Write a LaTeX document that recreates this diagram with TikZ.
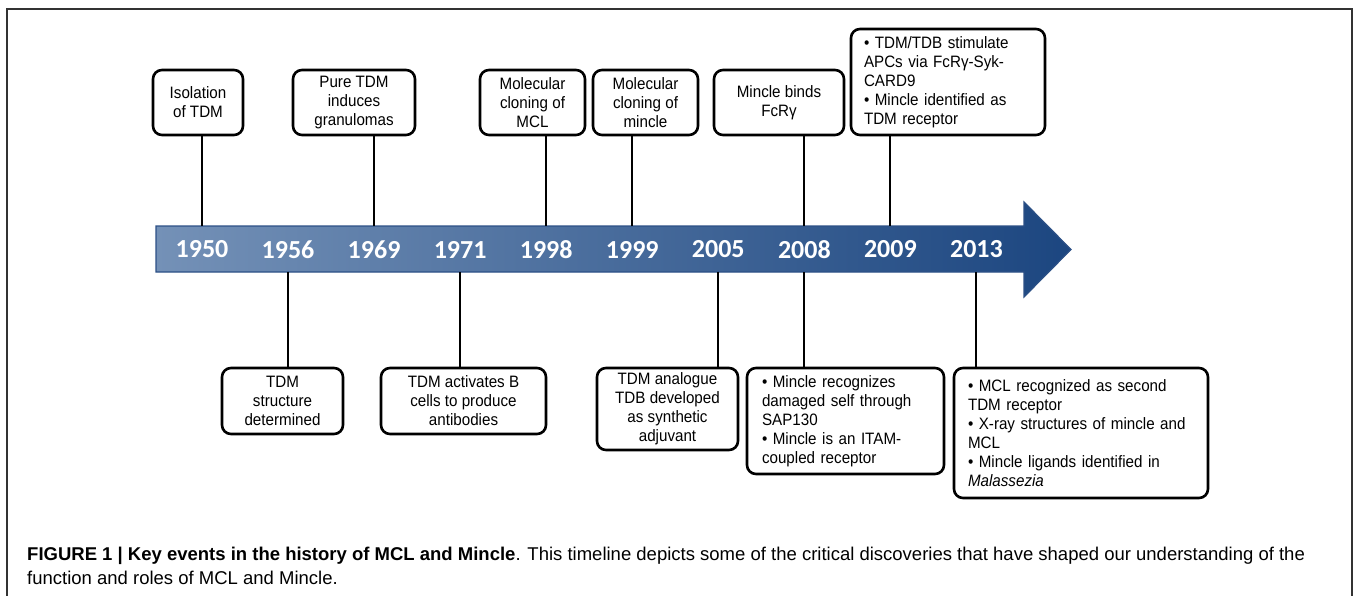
\documentclass[tikz,border=0pt]{standalone}
\usepackage{fontspec}
\setmainfont{Liberation Sans}
\newfontfamily\yearfont{Carlito}
\newfontfamily\boxfont[FakeStretch=0.92]{Liberation Sans}
\usetikzlibrary{calc}
\definecolor{bandlight}{RGB}{116,145,183}
\definecolor{banddark}{RGB}{28,70,128}
\definecolor{bandedge}{RGB}{44,80,134}
\tikzset{
	event/.style={draw, line width=2.6pt, rounded corners=9pt, align=center, inner sep=0pt,
		font=\boxfont\fontsize{16.5}{19}\selectfont},
	eventl/.style={event, align=left},
	stem/.style={line width=2pt},
	year/.style={text=white, inner sep=0pt, font=\yearfont\bfseries\fontsize{26}{26}\selectfont},
}

\begin{document}
\begin{tikzpicture}[x=1pt, y=-1pt]
		%%%%% START %%%%%
		\useasboundingbox (0,0) rectangle (1354,596);
		\draw[line width=1.3pt, black!80] (7,596) |- (1352,9) -- (1352,596);
		
		% timeline arrow
		\shade[left color=bandlight, right color=banddark] (156,226) -- (1024,226) -- (1024,202) -- (1071,249.5) -- (1024,297) -- (1024,272) -- (156,272) -- cycle;
		\draw[bandedge, line width=1.2pt] (156,226) -- (1024,226) -- (1024,202) -- (1071,249.5) -- (1024,297) -- (1024,272) -- (156,272) -- cycle;
		\coordinate (bandtop) at (0,226);
		\coordinate (bandbot) at (0,272);
		
		\foreach \yr [count=\i from 0] in {1950,1956,1969,1971,1998,1999,2005,2008,2009,2013}
			\node[year] (y\yr) at ({202+86.05*\i}, 249.5) {\yr};
		
		% events above
		\node[event, minimum width=90, minimum height=65] (e1950) at (198,102.5) {Isolation\\of TDM};
		\node[event, minimum width=122, minimum height=65] (e1969) at (354,102.5) {Pure TDM\\induces\\granulomas};
		\node[event, minimum width=105, minimum height=65] (e1998) at (532.5,102.5) {Molecular\\cloning of\\MCL};
		\node[event, minimum width=105, minimum height=65] (e1999) at (645.5,102.5) {Molecular\\cloning of\\mincle};
		\node[event, minimum width=130, minimum height=65] (e2008a) at (779,102.5) {Mincle binds\\FcRγ};
		\node[eventl, minimum width=194, minimum height=106, text width=168] (e2009) at (948,82) {• TDM/TDB stimulate\\APCs via FcRγ-Syk-\\CARD9\\• Mincle identified as\\TDM receptor};
		
		% events below
		\node[event, minimum width=121, minimum height=66] (e1956) at (282.5,401) {TDM\\structure\\determined};
		\node[event, minimum width=165, minimum height=66] (e1971) at (463.5,401) {TDM activates B\\cells to produce\\antibodies};
		\node[event, minimum width=141, minimum height=82] (e2005) at (667.5,409) {TDM analogue\\TDB developed\\as synthetic\\adjuvant};
		\node[eventl, minimum width=197, minimum height=106, text width=167] (e2008b) at (845.5,421) {• Mincle recognizes\\damaged self through\\SAP130\\• Mincle is an ITAM-\\coupled receptor};
		\node[eventl, minimum width=254, minimum height=130, text width=226] (e2013) at (1081,433) {• MCL recognized as second\\TDM receptor\\• X-ray structures of mincle and\\MCL\\• Mincle ligands identified in\\\textit{Malassezia}};
		
		% stems
		\foreach \e/\yr in {e1950/1950,e1969/1969,e1998/1998,e1999/1999,e2008a/2008,e2009/2009}
			\draw[stem] (\e.south -| y\yr) -- (y\yr |- bandtop);
		\foreach \e/\yr in {e1956/1956,e1971/1971,e2005/2005,e2008b/2008,e2013/2013}
			\draw[stem] (\e.north -| y\yr) -- (y\yr |- bandbot);
		
		% caption
		\node[anchor=west, align=left, inner sep=0pt, font=\fontsize{18.5}{24}\selectfont] (caption) at (27,566) {\textbf{FIGURE 1 | Key events in the history of MCL and Mincle}. This timeline depicts some of the critical discoveries that have shaped our understanding of the\\function and roles of MCL and Mincle.};
		%%%%% END %%%%%
\end{tikzpicture}
\end{document}
